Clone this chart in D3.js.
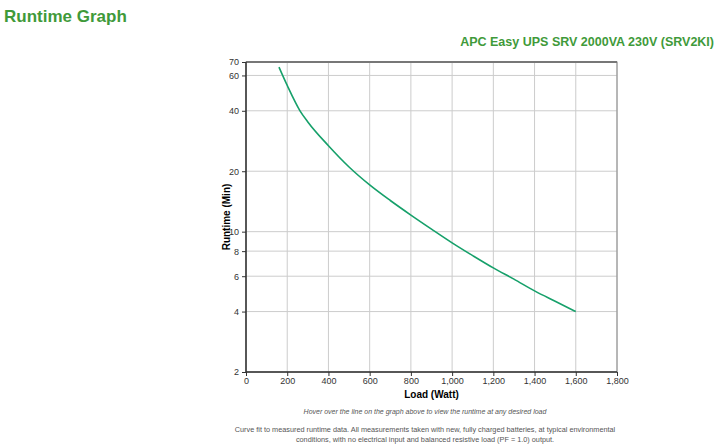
<!DOCTYPE html>
<html><head><meta charset="utf-8">
<script src="https://cdn.jsdelivr.net/npm/d3@7"></script>
<style>body{margin:0;background:#fff;font-family:Arial,"Liberation Sans",sans-serif}</style>
</head><body>
<script>
// Runtime data
const loads = [160, 200, 262, 300, 400, 500, 600, 700, 800, 900, 1000, 1100, 1200, 1300, 1400, 1500, 1600];
const runtimes = [66, 53.5, 40, 35.2, 26.8, 21, 17.1, 14.3, 12.1, 10.3, 8.8, 7.6, 6.6, 5.8, 5.07, 4.5, 4.0];
const xTicks = [0, 200, 400, 600, 800, 1000, 1200, 1400, 1600, 1800];
const yTicks = [2, 4, 6, 8, 10, 20, 40, 60, 70];

const svg = d3.select('body').append('svg').attr('width', 720).attr('height', 446);

svg.append('text').attr('x', 4).attr('y', 22).text('Runtime Graph')
  .attr('fill', '#3f9a3a').attr('font-size', 17).attr('font-weight', 'bold');
svg.append('text').attr('x', 714).attr('y', 46).attr('text-anchor', 'end')
  .text('APC Easy UPS SRV 2000VA 230V (SRV2KI)')
  .attr('fill', '#3f9a3a').attr('font-size', 12.5).attr('font-weight', 'bold');

const x = d3.scaleLinear().domain([0, 1800]).range([246, 617]);
const y = d3.scaleLog().domain([2, 70]).range([372, 62]);

// Grid lines
svg.append('g').selectAll('line').data(xTicks.slice(1)).join('line')
  .attr('x1', d => x(d)).attr('x2', d => x(d)).attr('y1', 62).attr('y2', 372)
  .attr('stroke', '#ccc');
svg.append('g').selectAll('line').data(yTicks.slice(1)).join('line')
  .attr('x1', 246).attr('x2', 617).attr('y1', d => y(d)).attr('y2', d => y(d))
  .attr('stroke', '#ccc');
svg.append('rect').attr('x', 246).attr('y', 62).attr('width', 371).attr('height', 310)
  .attr('fill', 'none').attr('stroke', '#888');
svg.append('line').attr('x1', 246).attr('x2', 617).attr('y1', 62).attr('y2', 62).attr('stroke', '#777').attr('stroke-width', 2);
svg.append('line').attr('x1', 246).attr('x2', 617).attr('y1', 372).attr('y2', 372).attr('stroke', '#333').attr('stroke-width', 1.5);
svg.append('line').attr('x1', 246).attr('x2', 246).attr('y1', 62).attr('y2', 372).attr('stroke', '#333').attr('stroke-width', 1.5);

// Axes
const xAxis = svg.append('g').attr('transform', 'translate(0,372)')
  .call(d3.axisBottom(x).tickValues(xTicks).tickSize(4).tickFormat(d3.format(',')));
const yAxis = svg.append('g').attr('transform', 'translate(246,0)')
  .call(d3.axisLeft(y).tickValues(yTicks).tickSize(4).tickFormat(d3.format('d')));
[xAxis, yAxis].forEach(a => {
  a.select('.domain').remove();
  a.selectAll('text').attr('font-size', 9).attr('fill', '#333').attr('font-family', 'Arial, sans-serif');
  a.selectAll('line').attr('stroke', '#333');
});
xAxis.selectAll('text').attr('dy', '0.6em');

svg.append('text').attr('x', x(900)).attr('y', 398).attr('text-anchor', 'middle')
  .text('Load (Watt)').attr('font-size', 10).attr('font-weight', 'bold');
svg.append('text').attr('transform', 'translate(230,217) rotate(-90)').attr('text-anchor', 'middle')
  .text('Runtime (Min)').attr('font-size', 10).attr('font-weight', 'bold');

// Curve
const pts = loads.map((l, i) => [l, runtimes[i]]);
svg.append('path').datum(pts)
  .attr('d', d3.line().x(d => x(d[0])).y(d => y(d[1])).curve(d3.curveMonotoneX))
  .attr('fill', 'none').attr('stroke', '#16a06a').attr('stroke-width', 1.6);

svg.append('text').attr('x', 425).attr('y', 414).attr('text-anchor', 'middle')
  .text('Hover over the line on the graph above to view the runtime at any desired load')
  .attr('font-size', 7).attr('font-style', 'italic').attr('fill', '#555');
svg.append('text').attr('x', 425).attr('y', 432).attr('text-anchor', 'middle')
  .text('Curve fit to measured runtime data. All measurements taken with new, fully charged batteries, at typical environmental')
  .attr('font-size', 7.3).attr('fill', '#555');
svg.append('text').attr('x', 425).attr('y', 442).attr('text-anchor', 'middle')
  .text('conditions, with no electrical input and balanced resistive load (PF = 1.0) output.')
  .attr('font-size', 7.3).attr('fill', '#555');
</script>
</body></html>
